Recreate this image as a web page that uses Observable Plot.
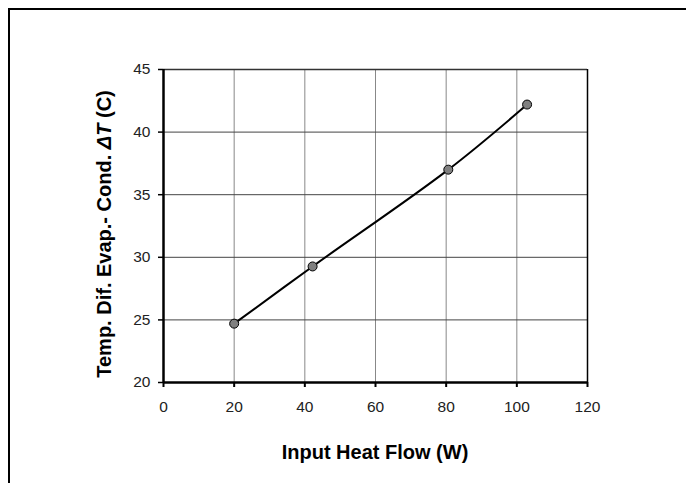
<!DOCTYPE html>
<html>
<head>
<meta charset="utf-8">
<script src="https://cdn.jsdelivr.net/npm/d3@7"></script>
<script src="https://cdn.jsdelivr.net/npm/@observablehq/plot@0.6"></script>
<style>
  body { margin: 0; background: #fff; }
  #wrap { position: relative; width: 686px; height: 483px; overflow: hidden; }
  #border { position: absolute; left: 8px; top: 8px; width: 700px; height: 500px; border: 2px solid #000; pointer-events: none; }
  svg { font-family: "Liberation Sans", Arial, sans-serif; }
</style>
</head>
<body>
<div id="wrap"><div id="border"></div></div>
<script>
const heatFlow = [20.0, 42.2, 80.6, 102.9];
const deltaT = [24.7, 29.27, 37.0, 42.2];
const xTicks = [0, 20, 40, 60, 80, 100, 120];
const yTicks = [20, 25, 30, 35, 40, 45];
const xLabel = "Input Heat Flow (W)";
const yLabelParts = [["Temp. Dif. Evap.- Cond. ", "normal"], ["\u0394T", "italic"], [" (C)", "normal"]];

const data = heatFlow.map((x, i) => ({x, y: deltaT[i]}));

const chart = Plot.plot({
  width: 686,
  height: 483,
  marginLeft: 163,
  marginRight: 99,
  marginTop: 69,
  marginBottom: 101,
  style: {fontFamily: "'Liberation Sans', Arial, sans-serif", fontSize: "15.5px", color: "#000", background: "transparent"},
  x: {domain: [0, 120], ticks: xTicks, label: null},
  y: {domain: [20, 45], ticks: yTicks, label: null},
  marks: [
    Plot.ruleX(xTicks.slice(1, -1), {stroke: "#888", strokeWidth: 1}),
    Plot.ruleY(yTicks.slice(1, -1), {stroke: "#444", strokeWidth: 1}),
    Plot.ruleY([45], {stroke: "#333", strokeWidth: 1.5}),
    Plot.ruleX([120], {stroke: "#000", strokeWidth: 1.5}),
    Plot.axisX({ticks: xTicks, tickSize: 5, tickPadding: 13, stroke: "#000", strokeWidth: 2, fontSize: 15.5, fill: "#222"}),
    Plot.axisY({ticks: yTicks, tickSize: 5, tickPadding: 8, stroke: "#000", strokeWidth: 1.5, fontSize: 15.5, fill: "#222"}),
    Plot.ruleX([0], {stroke: "#000", strokeWidth: 2.5}),
    Plot.ruleY([20], {stroke: "#000", strokeWidth: 2.5}),
    Plot.line(data, {x: "x", y: "y", curve: "catmull-rom", stroke: "#000", strokeWidth: 2}),
    Plot.dot(data, {x: "x", y: "y", r: 4.5, fill: "#808080", stroke: "#000", strokeWidth: 1})
  ]
});

const svg = d3.select(chart);
svg.append("text")
  .attr("x", 375).attr("y", 459)
  .attr("text-anchor", "middle")
  .style("font-size", "20px").style("font-weight", "bold")
  .style("font-family", "'Liberation Sans', Arial, sans-serif")
  .attr("fill", "#000")
  .text(xLabel);

const yl = svg.append("text")
  .attr("transform", "translate(111,234) rotate(-90)")
  .attr("text-anchor", "middle")
  .style("font-size", "20px").style("font-weight", "bold")
  .style("font-family", "'Liberation Sans', Arial, sans-serif")
  .attr("fill", "#000");
yLabelParts.forEach(([t, s]) => yl.append("tspan").style("font-style", s).text(t));

document.getElementById("wrap").prepend(chart);
</script>
</body>
</html>
